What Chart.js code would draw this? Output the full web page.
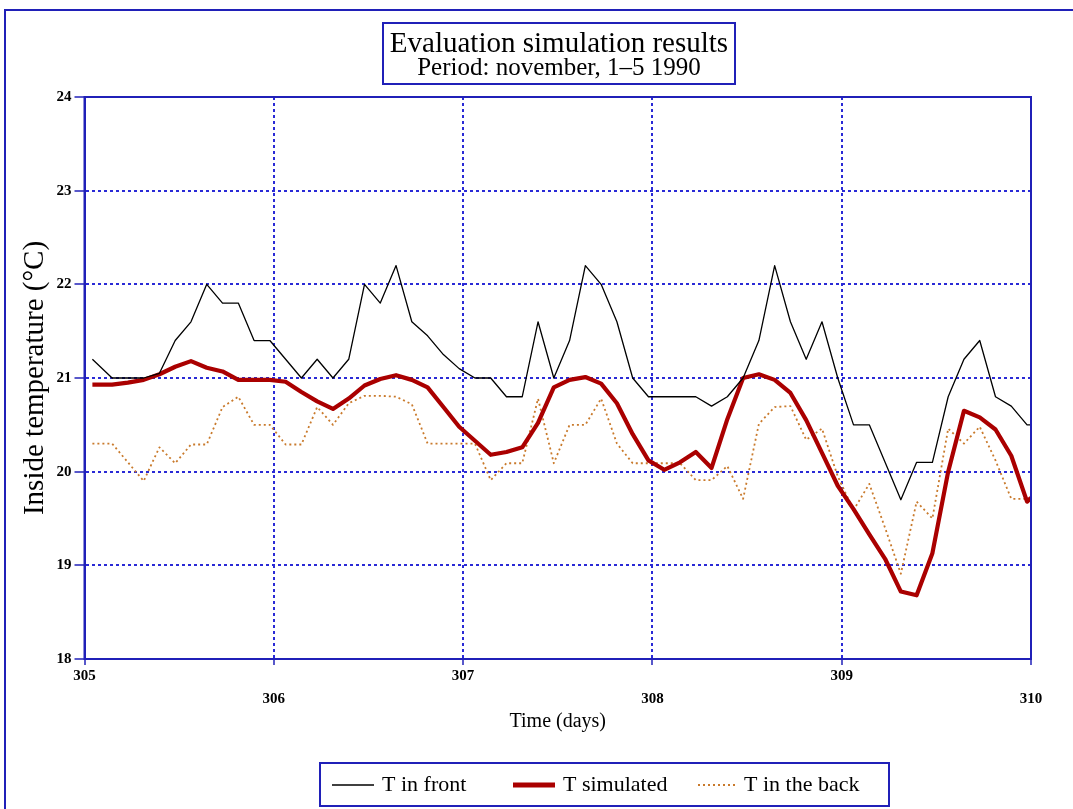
<!DOCTYPE html>
<html><head><meta charset="utf-8">
<script src="https://cdn.jsdelivr.net/npm/chart.js@4.4.0/dist/chart.umd.min.js"></script>
<style>
html,body{margin:0;padding:0;background:#fff;}
#wrap{position:relative;width:1073px;height:809px;}
</style></head><body>
<div id="wrap"><canvas id="c"></canvas></div>
<script>
// Sample times, hours after the start of day 305
const hours = [1,3.5,5.5,7.5,9.5,11.5,13.5,15.5,17.5,19.5,21.5,23.5,
  25.5,27.5,29.5,31.5,33.5,35.5,37.5,39.5,41.5,43.5,45.5,47.5,
  49.5,51.5,53.5,55.5,57.5,59.5,61.5,63.5,65.5,67.5,69.5,71.5,
  73.5,75.5,77.5,79.5,81.5,83.5,85.5,87.5,89.5,91.5,93.5,95.5,
  97.5,99.5,101.5,103.5,105.5,107.5,109.5,111.5,113.5,115.5,117.5,119.5,120];
const startDay = 305;

const tFront = [21.2,21.0,21.0,21.0,21.05,21.4,21.6,22.0,21.8,21.8,21.4,21.4,
  21.2,21.0,21.2,21.0,21.2,22.0,21.8,22.2,21.6,21.45,21.25,21.1,
  21.0,21.0,20.8,20.8,21.6,21.0,21.4,22.2,22.0,21.6,21.0,20.8,
  20.8,20.8,20.8,20.7,20.8,21.0,21.4,22.2,21.6,21.2,21.6,21.0,
  20.5,20.5,20.1,19.7,20.1,20.1,20.8,21.2,21.4,20.8,20.7,20.5,20.5];

const tSim = [20.93,20.93,20.95,20.98,21.04,21.12,21.18,21.11,21.07,20.98,20.98,20.98,
  20.96,20.85,20.75,20.67,20.78,20.92,20.99,21.03,20.98,20.9,20.69,20.48,
  20.33,20.18,20.21,20.26,20.52,20.9,20.98,21.01,20.94,20.73,20.4,20.12,
  20.02,20.1,20.21,20.04,20.56,21.0,21.04,20.98,20.84,20.55,20.2,19.85,
  19.6,19.33,19.07,18.72,18.68,19.13,20.0,20.65,20.58,20.45,20.17,19.68,19.72];

const tBack = [20.3,20.3,20.1,19.9,20.26,20.09,20.29,20.29,20.69,20.8,20.5,20.5,
  20.29,20.29,20.69,20.5,20.73,20.81,20.81,20.8,20.72,20.3,20.3,20.3,
  20.3,19.91,20.09,20.09,20.78,20.09,20.5,20.5,20.78,20.3,20.09,20.09,
  20.09,20.09,19.91,19.91,20.06,19.71,20.51,20.69,20.7,20.34,20.46,19.95,
  19.59,19.87,19.4,18.91,19.68,19.5,20.46,20.3,20.48,20.12,19.71,19.71,19.71];

const xTicks = [305,306,307,308,309,310];
const yTicks = [18,19,20,21,22,23,24];
const seriesNames = ['T in front','T simulated','T in the back'];
const titleLines = ['Evaluation simulation results','Period: november, 1\u20135 1990'];
const xTitle = 'Time (days)';
const yTitle = 'Inside temperature (\u00B0C)';

const FONT = '"Liberation Serif","Times New Roman",serif';
const BLUE = '#2020b8';
const GRID = '#2a2ad6';

const toPts = vals => vals.map((v, i) => ({x: startDay + hours[i] / 24, y: v}));

const styles = [
  {color: '#000000', width: 1.3, dash: []},
  {color: '#aa0000', width: 4.2, dash: []},
  {color: '#c97a2c', width: 1.8, dash: [2, 3]}
];

const decor = {
  id: 'decor',
  beforeDraw(chart) {
    const ctx = chart.ctx;
    ctx.save();
    ctx.fillStyle = '#fff';
    ctx.fillRect(0, 0, chart.width, chart.height);
    // outer frame
    ctx.strokeStyle = BLUE; ctx.lineWidth = 2;
    ctx.beginPath(); ctx.moveTo(5, 809); ctx.lineTo(5, 10); ctx.lineTo(1073, 10); ctx.stroke();
    ctx.restore();
  },
  afterDraw(chart) {
    const ctx = chart.ctx;
    const a = chart.chartArea;
    ctx.save();
    // chart area frame
    ctx.strokeStyle = BLUE; ctx.lineWidth = 2;
    ctx.strokeRect(a.left, a.top, a.right - a.left, a.bottom - a.top);
    // title box
    ctx.strokeRect(383, 23, 352, 61);
    ctx.fillStyle = '#000';
    ctx.textAlign = 'center'; ctx.textBaseline = 'middle';
    ctx.font = '29px ' + FONT;
    ctx.fillText(titleLines[0], 559, 44);
    ctx.font = '25px ' + FONT;
    ctx.fillText(titleLines[1], 559, 68);
    // legend box
    ctx.strokeRect(320, 763, 569, 43);
    const items = [
      {x1: 332, x2: 374, tx: 382},
      {x1: 513, x2: 555, tx: 563},
      {x1: 698, x2: 737, tx: 744}
    ];
    const ly = 785;
    ctx.font = '22px ' + FONT;
    ctx.textAlign = 'left';
    items.forEach((it, i) => {
      const s = styles[i];
      ctx.strokeStyle = s.color; ctx.lineWidth = i === 1 ? 5 : s.width;
      ctx.setLineDash(s.dash);
      ctx.beginPath(); ctx.moveTo(it.x1, ly); ctx.lineTo(it.x2, ly); ctx.stroke();
      ctx.setLineDash([]);
      ctx.fillStyle = '#000';
      ctx.fillText(seriesNames[i], it.tx, ly);
    });
    ctx.restore();
  }
};

new Chart(document.getElementById('c'), {
  type: 'line',
  data: {
    datasets: [tFront, tSim, tBack].map((vals, i) => ({
      label: seriesNames[i],
      data: toPts(vals),
      borderColor: styles[i].color,
      borderWidth: styles[i].width,
      borderDash: styles[i].dash,
      pointRadius: 0,
      tension: 0,
      fill: false,
      borderJoinStyle: 'round'
    }))
  },
  options: {
    responsive: true,
    maintainAspectRatio: false,
    animation: false,
    parsing: false,
    layout: {padding: {top: 97, right: 42, bottom: 0, left: 0}},
    plugins: {legend: {display: false}, title: {display: false}, tooltip: {enabled: false}},
    scales: {
      x: {
        type: 'linear', min: 305, max: 310,
        afterBuildTicks: s => { s.ticks = xTicks.map(v => ({value: v})); },
        afterFit: s => { s.height = 150; },
        grid: {color: GRID, lineWidth: 2, drawTicks: true, tickLength: 6,
               tickColor: BLUE, tickWidth: 1.5, tickBorderDash: [100, 0]},
        border: {display: true, color: BLUE, width: 2, dash: [3, 3]},
        ticks: {
          font: {family: FONT, size: 15, weight: 'bold', lineHeight: 1.5},
          color: '#000', padding: 0, maxRotation: 0, autoSkip: false,
          callback: (v, i) => (i % 2 ? ['', String(v)] : String(v))
        },
        title: {display: true, text: xTitle, color: '#000',
                font: {family: FONT, size: 20}, padding: {top: 0, bottom: 75}}
      },
      y: {
        min: 18, max: 24,
        afterBuildTicks: s => { s.ticks = yTicks.map(v => ({value: v})); },
        afterFit: s => { s.width = 84.5; },
        grid: {color: GRID, lineWidth: 2, drawTicks: true, tickLength: 10,
               tickColor: BLUE, tickWidth: 1.5, tickBorderDash: [100, 0]},
        border: {display: true, color: BLUE, width: 2, dash: [3, 3]},
        ticks: {font: {family: FONT, size: 15, weight: 'bold'}, color: '#000', padding: 3},
        title: {display: true, text: yTitle, color: '#000',
                font: {family: FONT, size: 29}, padding: {top: 18, bottom: 0}}
      }
    }
  },
  plugins: [decor]
});
</script>
</body></html>
